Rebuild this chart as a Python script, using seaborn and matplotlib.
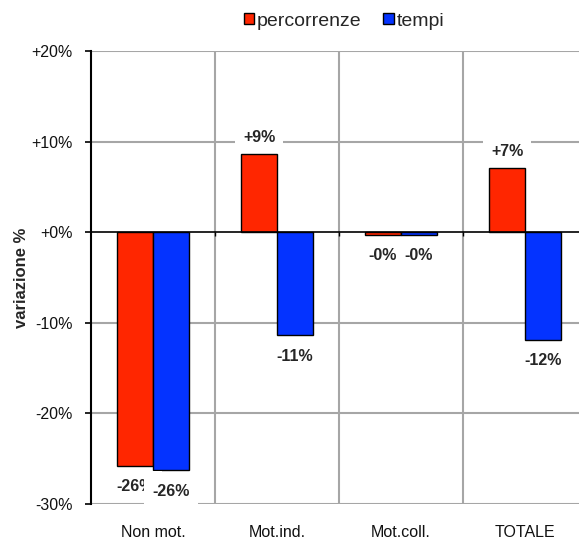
import matplotlib
matplotlib.use("Agg")
import matplotlib.pyplot as plt
import seaborn as sns
import pandas as pd
from matplotlib.ticker import FuncFormatter, MultipleLocator
from matplotlib.patches import Patch

categories = ["Non mot.", "Mot.ind.", "Mot.coll.", "TOTALE"]
series = ["percorrenze", "tempi"]
percorrenze = [-25.8, 8.65, -0.3, 7.1]
tempi = [-26.3, -11.4, -0.3, -11.9]
colors = {"percorrenze": "#FF2600", "tempi": "#0433FF"}

df = pd.DataFrame({
    "categoria": categories * 2,
    "serie": [series[0]] * 4 + [series[1]] * 4,
    "valore": percorrenze + tempi,
})

sns.set_theme(style="white")
plt.rcParams["font.family"] = ["Liberation Sans", "DejaVu Sans"]

fig = plt.figure(figsize=(5.79, 5.43), dpi=100)
ax = fig.add_axes([91 / 579, 1 - 504 / 543, 496 / 579, 453 / 543])

sns.barplot(data=df, x="categoria", y="valore", hue="serie", order=categories,
            hue_order=series, palette=colors, width=0.58, edgecolor="black",
            linewidth=1, saturation=1, legend=False, ax=ax, zorder=3)

ax.set_xlim(-0.5, 3.5)
ax.set_ylim(-30, 20)
ax.yaxis.set_major_locator(MultipleLocator(10))
ax.yaxis.set_major_formatter(FuncFormatter(lambda v, p: f"{v:+.0f}%"))

# grid: horizontal at every 10%, vertical at category boundaries
for y in range(-30, 21, 10):
    if y != 0:
        ax.axhline(y, color="#A6A6A6", lw=1.5, zorder=1)
for x in [0.5, 1.5, 2.5, 3.5]:
    ax.axvline(x, color="#A6A6A6", lw=1.5, zorder=1)
ax.axhline(0, color="black", lw=1.2, zorder=4)
ax.plot([0.5, 1.5, 2.5], [0, 0, 0], ls="none", marker=3, color="black",
        markersize=3, mew=1, zorder=4)

for s in ["top", "right", "bottom"]:
    ax.spines[s].set_visible(False)
ax.spines["left"].set_color("black")
ax.spines["left"].set_linewidth(1.5)
ax.spines["left"].set_zorder(5)

ax.tick_params(axis="y", length=4, width=1.2, color="black", direction="out",
               labelsize=11.5, pad=9, left=True, labelcolor="#111111")
ax.tick_params(axis="x", length=0, labelsize=11.5, pad=15, labelcolor="#111111")
ax.set_xlabel("")
ax.set_ylabel("variazione %", fontsize=12, fontweight="bold", labelpad=2)

# value labels with white boxes
bbox = dict(boxstyle="square,pad=0.5", fc="white", ec="none")
offsets = [-0.145, 0.145]
for si, vals in enumerate([percorrenze, tempi]):
    for ci, v in enumerate(vals):
        x = ci + offsets[si]
        dy = 12 if v > 0 else -15
        ax.annotate(f"{v:+.0f}%", xy=(x, v), xytext=(0, dy),
                    textcoords="offset points", ha="center", va="center",
                    fontsize=11.5, fontweight="bold", bbox=bbox, zorder=6)

handles = [Patch(facecolor=colors[s], edgecolor="black", linewidth=1) for s in series]
fig.legend(handles, series, loc="center", bbox_to_anchor=(344 / 579, 1 - 21 / 543),
           ncol=2, frameon=False, fontsize=14, handlelength=0.55,
           handleheight=0.55, handletextpad=0.15, columnspacing=1.1)

fig.savefig("out.png", dpi=100)
